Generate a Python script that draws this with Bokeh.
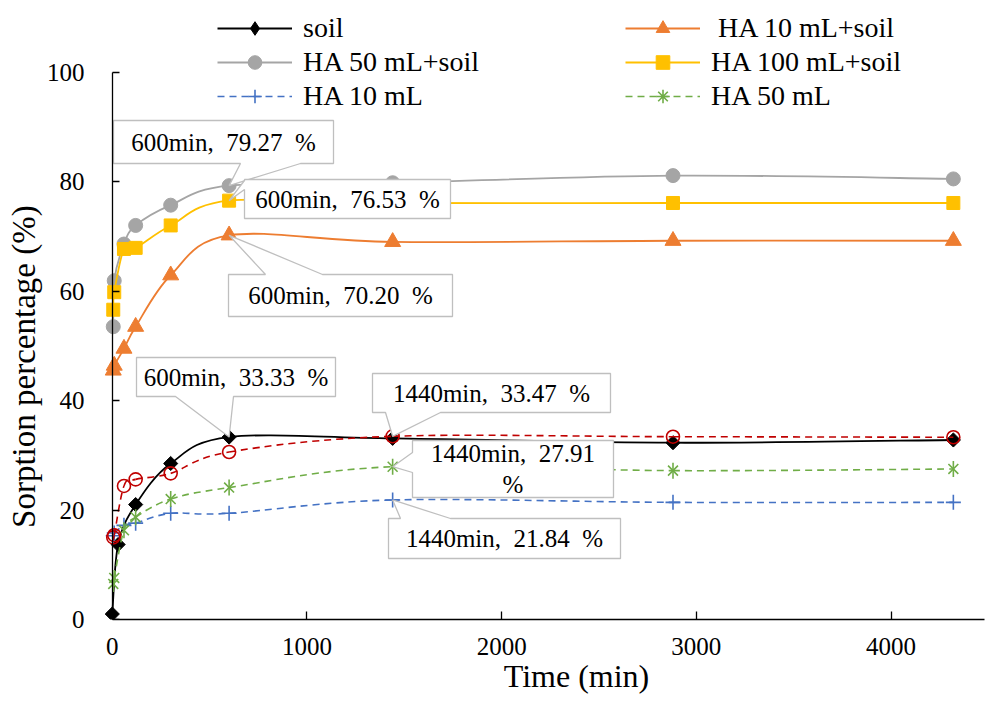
import math
from bokeh.plotting import figure
from bokeh.models import Range1d, FixedTicker, Legend, LegendItem, LinearAxis
from bokeh.core.properties import value
from bokeh.embed import file_html
from bokeh.resources import INLINE

# ---------------- data ----------------
TIME_SOIL = [0, 30, 120, 300, 600, 1440, 2880, 4320]
SOIL = [1.0, 13.7, 21.0, 28.5, 33.33, 33.1, 32.3, 32.8]

TIME = [5, 10, 60, 120, 300, 600, 1440, 2880, 4320]
HA10_SOIL = [45.5, 46.4, 49.5, 53.5, 62.9, 70.20, 69.0, 69.2, 69.2]
HA50_SOIL = [53.5, 61.9, 68.6, 72.0, 75.7, 79.27, 79.8, 81.1, 80.5]
HA100_SOIL = [56.6, 59.8, 67.7, 67.9, 72.0, 76.53, 76.1, 76.1, 76.1]
HA10 = [15.3, 15.8, 17.2, 17.6, 19.4, 19.4, 21.84, 21.4, 21.4]
HA50 = [6.5, 7.6, 16.3, 18.7, 22.0, 24.1, 27.91, 27.2, 27.5]
HA100 = [15.0, 15.4, 24.4, 25.6, 26.7, 30.6, 33.47, 33.4, 33.3]

X_TICKS = [0, 1000, 2000, 3000, 4000]
Y_TICKS = [0, 20, 40, 60, 80, 100]

FONT = "Liberation Serif"

# ---------------- layout ----------------
FRAME_W, FRAME_H = 880, 613
X_START, X_END = -40, 4480
Y_START, Y_END = 0, 112
LEFT, TOP = 104, 6
SX = FRAME_W / (X_END - X_START)
SY = FRAME_H / (Y_END - Y_START)
NB = "\u00a0"


def px2x(px):
    return X_START + (px - LEFT) / SX


def py2y(py):
    return Y_END - (py - TOP) / SY


p = figure(frame_width=FRAME_W, frame_height=FRAME_H,
           x_range=Range1d(X_START, X_END), y_range=Range1d(Y_START, Y_END),
           output_backend="svg", toolbar_location=None,
           min_border_left=LEFT, min_border_right=5, min_border_top=TOP,
           min_border_bottom=0, outline_line_color=None,
           background_fill_color="white", border_fill_color="white")
p.xgrid.visible = False
p.ygrid.visible = False


def style_axis(ax, tick_size, label_size):
    ax.axis_line_color = "black"
    ax.axis_line_width = 1.3
    ax.major_tick_line_color = "black"
    ax.major_tick_line_width = 1.3
    ax.major_tick_out = 0
    ax.minor_tick_line_color = None
    ax.major_label_text_font = FONT
    ax.major_label_text_font_size = tick_size
    ax.major_label_text_font_style = "normal"
    ax.major_label_text_color = "black"
    ax.axis_label_text_font = FONT
    ax.axis_label_text_font_size = label_size
    ax.axis_label_text_font_style = "normal"
    ax.axis_label_text_color = "black"


xa = p.xaxis[0]
style_axis(xa, "25px", "32px")
xa.ticker = FixedTicker(ticks=X_TICKS)
xa.bounds = (0, X_END)
xa.major_tick_in = 8
xa.major_label_standoff = 18
xa.axis_label = NB * 8 + "Time (min)"
xa.axis_label_standoff = 0

ya = p.yaxis[0]
style_axis(ya, "25px", "33px")
ya.ticker = FixedTicker(ticks=Y_TICKS)
ya.bounds = (0, 100)
ya.axis_line_color = None
ya.major_tick_line_color = None
ya.major_tick_in = 0
ya.major_label_standoff = 20
ya.axis_label = "Sorption percentage (%)" + NB * 13
ya.axis_label_standoff = 2

# y axis line and ticks, placed at time = 0
yline = LinearAxis(ticker=FixedTicker(ticks=Y_TICKS), fixed_location=0, bounds=(0, 100),
                   axis_line_color="black", axis_line_width=1.3,
                   major_tick_line_color="black", major_tick_line_width=1.3,
                   major_tick_in=7, major_tick_out=0, minor_tick_line_color=None,
                   major_label_text_color=None, major_label_standoff=0)
p.add_layout(yline, "left")


def smooth(xs, ys, color, width, dash="solid"):
    n = len(xs)
    x0, y0, x1, y1, cx0, cy0, cx1, cy1 = [], [], [], [], [], [], [], []
    for i in range(n - 1):
        a = i - 1 if i > 0 else i
        d = i + 2 if i + 2 < n else i + 1
        x0.append(xs[i]); y0.append(ys[i])
        x1.append(xs[i + 1]); y1.append(ys[i + 1])
        cx0.append(xs[i] + (xs[i + 1] - xs[a]) / 6.0)
        cy0.append(ys[i] + (ys[i + 1] - ys[a]) / 6.0)
        cx1.append(xs[i + 1] - (xs[d] - xs[i]) / 6.0)
        cy1.append(ys[i + 1] - (ys[d] - ys[i]) / 6.0)
    return p.bezier(x0=x0, y0=y0, x1=x1, y1=y1, cx0=cx0, cy0=cy0, cx1=cx1, cy1=cy1,
                    line_color=color, line_width=width, line_dash=dash)


BLACK, ORANGE, GRAY, YELLOW = "#000000", "#ED7D31", "#A5A5A5", "#FFC000"
BLUE, GREEN, RED = "#4472C4", "#70AD47", "#C00000"
DASH = "7 5"

soil_line = smooth(TIME_SOIL, SOIL, BLACK, 1.8)
p.scatter(TIME_SOIL, SOIL, marker="square", size=10, angle=math.pi / 4,
          fill_color=BLACK, line_color=BLACK)
soil_key = p.scatter(TIME_SOIL, SOIL, marker="diamond", size=14,
                     fill_color=BLACK, line_color=BLACK, visible=False)
r_soil = [soil_line, soil_key]
r_ha10s = [smooth(TIME, HA10_SOIL, ORANGE, 1.8),
           p.scatter(TIME, HA10_SOIL, marker="triangle", size=16,
                     fill_color=ORANGE, line_color=ORANGE)]
r_ha50s = [smooth(TIME, HA50_SOIL, GRAY, 1.8),
           p.scatter(TIME, HA50_SOIL, marker="circle", size=14,
                     fill_color=GRAY, line_color=GRAY)]
r_ha100s = [smooth(TIME, HA100_SOIL, YELLOW, 1.8),
            p.scatter(TIME, HA100_SOIL, marker="square", size=13,
                      fill_color=YELLOW, line_color=YELLOW)]
r_ha10 = [smooth(TIME, HA10, BLUE, 1.6, DASH),
          p.scatter(TIME, HA10, marker="cross", size=15, line_color=BLUE, line_width=1.6)]
ha50_line = smooth(TIME, HA50, GREEN, 1.6, DASH)
p.scatter(TIME, HA50, marker="x", size=14, line_color=GREEN, line_width=1.6)
p.scatter(TIME, HA50, marker="dash", size=16, angle=math.pi / 2,
          line_color=GREEN, line_width=1.6)
ha50_key = p.scatter(TIME, HA50, marker="asterisk", size=14, line_color=GREEN,
                     line_width=1.6, visible=False)
r_ha50 = [ha50_line, ha50_key]
smooth(TIME, HA100, RED, 1.6, DASH)
p.scatter(TIME, HA100, marker="circle", size=13, fill_color=None,
          line_color=RED, line_width=1.6)

# ---------------- callouts ----------------
def fmt(t, v):
    return f"{t}min,{NB} {v:.2f}{NB} %"


CALLOUTS = [
    (fmt(TIME[5], HA50_SOIL[5]), TIME[5], HA50_SOIL[5], (113, 120, 333, 163), "bottom", (240, 300)),
    (fmt(TIME[5], HA100_SOIL[5]), TIME[5], HA100_SOIL[5], (244, 179, 450, 218), "left", (180, 189)),
    (fmt(TIME[5], HA10_SOIL[5]), TIME[5], HA10_SOIL[5], (228, 274, 452, 316), "top", (265, 322)),
    (fmt(TIME_SOIL[4], SOIL[4]), TIME_SOIL[4], SOIL[4], (136, 357, 335, 396), "bottom", (175, 233)),
    (fmt(TIME[6], HA100[6]), TIME[6], HA100[6], (372, 373, 610, 412), "bottom", (385, 440)),
    (f"{TIME[6]}min,{NB} {HA50[6]:.2f}\n%", TIME[6], HA50[6], (412, 440, 613, 497), "left", (452, 472)),
    (fmt(TIME[6], HA10[6]), TIME[6], HA10[6], (388, 518, 620, 558), "top", (400, 450)),
]

for text, tx, ty, box, side, base in CALLOUTS:
    x0, y0, x1, y1 = box
    a, b = base
    X0, X1 = px2x(x0), px2x(x1)
    Y0, Y1 = py2y(y0), py2y(y1)
    if side == "bottom":
        xs = [X0, X1, X1, px2x(b), tx, px2x(a), X0]
        ys = [Y0, Y0, Y1, Y1, ty, Y1, Y1]
    elif side == "top":
        xs = [X0, px2x(a), tx, px2x(b), X1, X1, X0]
        ys = [Y0, Y0, ty, Y0, Y0, Y1, Y1]
    else:
        xs = [X0, X1, X1, X0, X0, tx, X0]
        ys = [Y0, Y0, Y1, Y1, py2y(b), ty, py2y(a)]
    p.patch(xs, ys, fill_color="white", line_color="#BFBFBF", line_width=1.3)
    p.text(x=[(X0 + X1) / 2], y=[(Y0 + Y1) / 2], text=[text],
           text_font=value(FONT), text_font_size="25px", text_color="black",
           text_align="center", text_baseline="middle", text_line_height=1.15)

# ---------------- legends ----------------
LEG_LEFT = [("soil", r_soil), ("HA 50 mL+soil", r_ha50s), ("HA 10 mL", r_ha10)]
LEG_RIGHT = [(NB + "HA 10 mL+soil", r_ha10s), ("HA 100 mL+soil", r_ha100s), ("HA 50 mL", r_ha50)]


def make_legend(entries, loc):
    lg = Legend(items=[LegendItem(label=l, renderers=r) for l, r in entries],
                location=loc, orientation="vertical",
                label_text_font=FONT, label_text_font_size="28px",
                label_text_font_style="normal",
                label_text_color="black", glyph_width=75, glyph_height=34,
                label_height=34, label_standoff=11, spacing=0, padding=0,
                margin=0, border_line_color=None, background_fill_alpha=0,
                inactive_fill_alpha=0)
    p.add_layout(lg, "center")


make_legend(LEG_LEFT, (217 - LEFT, (TOP + FRAME_H) - 113))
make_legend(LEG_RIGHT, (625 - LEFT, (TOP + FRAME_H) - 113))

open("out.html", "w").write(file_html(p, INLINE))
